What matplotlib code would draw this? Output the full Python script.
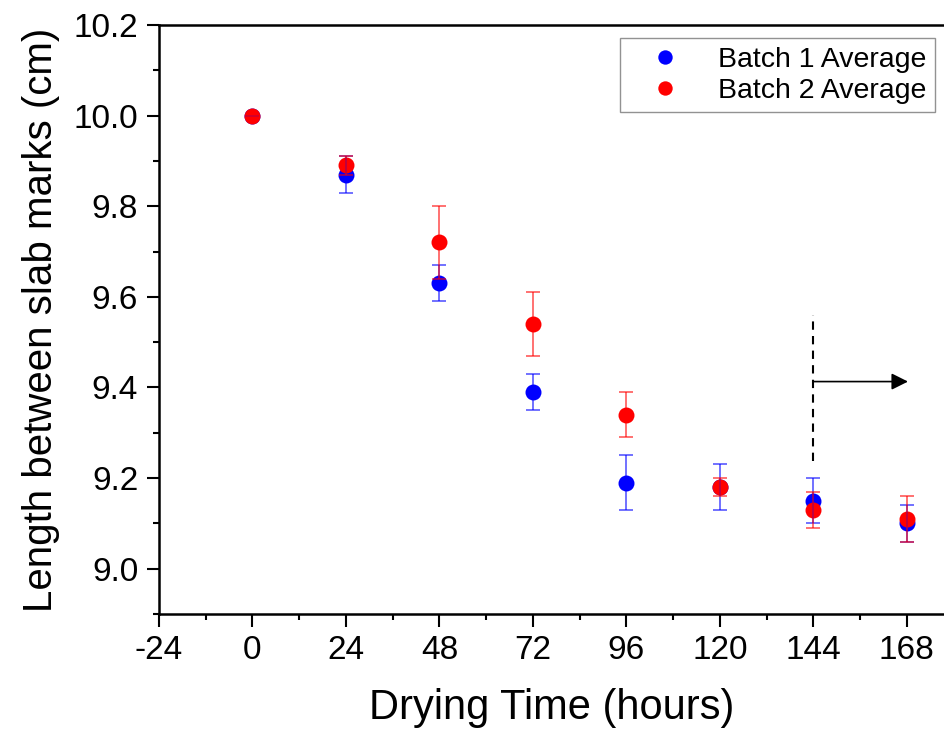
import matplotlib.pyplot as plt
import numpy as np

plt.rcParams['font.family'] = ['Liberation Sans', 'DejaVu Sans']
plt.rcParams['axes.unicode_minus'] = False

# 数据
hours = [0, 24, 48, 72, 96, 120, 144, 168]
batch1 = [10.00, 9.87, 9.63, 9.39, 9.19, 9.18, 9.15, 9.10]
batch1_err = [0.0, 0.04, 0.04, 0.04, 0.06, 0.05, 0.05, 0.04]
batch2 = [10.00, 9.89, 9.72, 9.54, 9.34, 9.18, 9.13, 9.11]
batch2_err = [0.0, 0.02, 0.08, 0.07, 0.05, 0.02, 0.04, 0.05]
x_ticks = [-24, 0, 24, 48, 72, 96, 120, 144, 168]
y_ticks = [9.0, 9.2, 9.4, 9.6, 9.8, 10.0, 10.2]

W, H = 945, 731
fig = plt.figure(figsize=(W / 100, H / 100), dpi=100)
ax = fig.add_axes([159 / W, (H - 614) / H, (W - 159) / W, (614 - 25) / H])

# 点
ax.plot(hours, batch1, 'o', color='#0000ff', ms=11.5, mec='none', zorder=2, label='Batch 1 Average')
ax.plot(hours, batch2, 'o', color='#ff0000', ms=11.5, mec='none', zorder=2.5, label='Batch 2 Average')

# 误差棒
ax.errorbar(hours, batch1, yerr=batch1_err, fmt='none', ecolor='#0000ff', alpha=0.65,
            elinewidth=1.2, capsize=4.8, capthick=1.2, zorder=3)
ax.errorbar(hours, batch2, yerr=batch2_err, fmt='none', ecolor='#ff0000', alpha=0.65,
            elinewidth=1.2, capsize=4.8, capthick=1.2, zorder=3)

# 虚线和箭头
ax.plot([144, 144], [9.238, 9.559], color='black', ls=(0, (4, 3)), lw=1.5, zorder=4)
ax.annotate('', xy=(168.3, 9.413), xytext=(144, 9.413),
            arrowprops=dict(arrowstyle='-|>', color='black', lw=1.2, mutation_scale=25,
                            shrinkA=0, shrinkB=0))

ax.set_xlim(-24, 177.8)
ax.set_ylim(8.903, 10.2)
ax.set_xticks(x_ticks)
ax.set_xticks(np.arange(-12, 180, 24), minor=True)
ax.set_yticks(y_ticks)
ax.set_yticks(np.arange(8.9, 10.2, 0.2), minor=True)
ax.set_yticklabels([f'{v:.1f}' for v in y_ticks])

ax.tick_params(which='major', direction='out', length=9, width=1.5, labelsize=24, pad=6)
ax.tick_params(which='minor', direction='out', length=4.5, width=1.5)
for s in ['left', 'bottom', 'top']:
    ax.spines[s].set_linewidth(1.8)
ax.spines['right'].set_visible(False)

ax.set_xlabel('Drying Time (hours)', fontsize=30, labelpad=16)
ax.set_ylabel('Length between slab marks (cm)', fontsize=29, labelpad=10)

leg = ax.legend(loc='upper right', bbox_to_anchor=((935 - 159) / (W - 159), 1 - (38 - 25) / (614 - 25)),
                fontsize=20.5, frameon=True, fancybox=False, edgecolor='#777777',
                handlelength=2.6, handletextpad=0.55, borderpad=0.3, labelspacing=0.18,
                markerscale=0.9, borderaxespad=0)
leg.get_frame().set_linewidth(1.0)

fig.savefig('out.png', dpi=100)
